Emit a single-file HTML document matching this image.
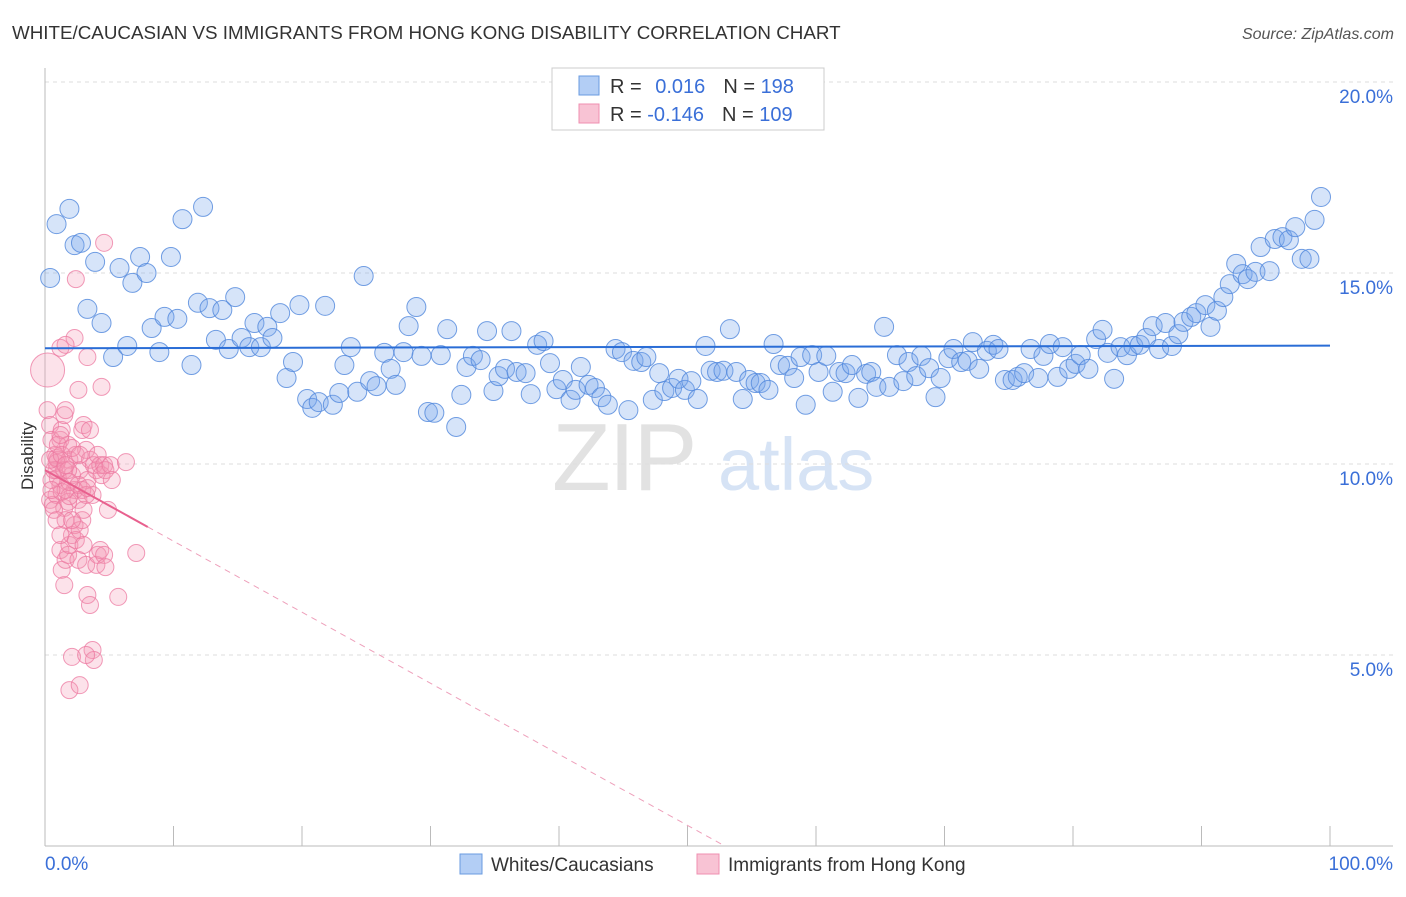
<!DOCTYPE html>
<html><head><meta charset="utf-8"><style>
body{margin:0;background:#fff;font-family:"Liberation Sans",sans-serif;}
svg text{font-family:"Liberation Sans",sans-serif;}
</style></head><body>
<svg id="chart" width="1406" height="892" xmlns="http://www.w3.org/2000/svg">
<text x="12" y="39" font-size="18.8" fill="#333">WHITE/CAUCASIAN VS IMMIGRANTS FROM HONG KONG DISABILITY CORRELATION CHART</text>
<text x="1394" y="39" font-size="16" fill="#555" font-style="italic" text-anchor="end">Source: ZipAtlas.com</text>
<g>
<text x="552" y="490" font-size="96" fill="#e2e2e2" font-family="Liberation Serif,serif" letter-spacing="-2">ZIP</text>
<text x="718" y="490" font-size="74" fill="#d6e3f5">atlas</text>
</g>
<g id="grid"></g>
<g id="axes"></g>
<g id="pinkPts"></g>
<g id="bluePts"></g>
<g id="trends"></g>
<text transform="translate(33,456) rotate(-90)" font-size="17" fill="#333" text-anchor="middle">Disability</text>
<g>
<rect x="552" y="68" width="272" height="62" fill="#fff" stroke="#ccc"/>
<rect x="579" y="76" width="20" height="19" fill="#b3cef5" stroke="#6a9be0"/>
<rect x="579" y="104" width="20" height="19" fill="#f8c3d4" stroke="#ef8fb0"/>
<text x="610" y="93" font-size="20" fill="#333">R = <tspan fill="#3a6fd8" dx="8">0.016</tspan><tspan dx="18" fill="#333">N = </tspan><tspan fill="#3a6fd8">198</tspan></text>
<text x="610" y="121" font-size="20" fill="#333">R = <tspan fill="#3a6fd8">-0.146</tspan><tspan dx="18" fill="#333">N = </tspan><tspan fill="#3a6fd8">109</tspan></text>
</g>
<g>
<rect x="460" y="854" width="22" height="20" fill="#b3cef5" stroke="#6a9be0"/>
<text x="491" y="871" font-size="19" fill="#333">Whites/Caucasians</text>
<rect x="697" y="854" width="22" height="20" fill="#f8c3d4" stroke="#ef8fb0"/>
<text x="728" y="871" font-size="19" fill="#333">Immigrants from Hong Kong</text>
</g>
</svg>
<script>
const yTicks=[5,10,15,20];
const yTickLabels=["5.0%","10.0%","15.0%","20.0%"];
const xTicks=[0,10,20,30,40,50,60,70,80,90,100];
const blueX=[0.4,0.9,1.9,2.3,2.8,3.3,3.9,4.4,5.3,5.8,6.4,6.8,7.4,7.9,8.3,8.9,9.3,9.8,10.3,10.7,11.4,11.9,12.3,12.8,13.3,13.8,14.3,14.8,15.3,15.9,16.3,16.8,17.3,17.7,18.3,18.8,19.3,19.8,20.4,20.8,21.3,21.8,22.4,22.9,23.3,23.8,24.3,24.8,25.3,25.8,26.4,26.9,27.3,27.9,28.3,28.9,29.3,29.8,30.3,30.8,31.3,32.0,32.4,32.8,33.3,33.9,34.4,34.9,35.3,35.8,36.3,36.7,37.4,37.8,38.3,38.8,39.3,39.8,40.3,40.9,41.3,41.7,42.3,42.8,43.3,43.8,44.4,44.9,45.4,45.8,46.4,46.8,47.3,47.8,48.2,48.8,49.3,49.8,50.3,50.8,51.4,51.8,52.3,52.8,53.3,53.8,54.3,54.8,55.3,55.7,56.3,56.7,57.2,57.8,58.3,58.8,59.2,59.7,60.2,60.8,61.3,61.8,62.3,62.8,63.3,63.9,64.3,64.7,65.3,65.7,66.3,66.8,67.2,67.8,68.2,68.8,69.3,69.7,70.3,70.7,71.3,71.8,72.2,72.7,73.3,73.8,74.2,74.7,75.3,75.7,76.2,76.7,77.3,77.7,78.2,78.8,79.2,79.7,80.2,80.6,81.2,81.8,82.3,82.7,83.2,83.7,84.2,84.7,85.2,85.7,86.2,86.7,87.2,87.7,88.2,88.6,89.2,89.6,90.3,90.7,91.2,91.7,92.2,92.7,93.2,93.6,94.2,94.6,95.3,95.7,96.3,96.8,97.3,97.8,98.4,98.8,99.3];
const blueY=[14.87,16.28,16.68,15.73,15.79,14.06,15.29,13.69,12.80,15.13,13.09,14.74,15.42,15.00,13.56,12.93,13.85,15.42,13.80,16.41,12.59,14.22,16.73,14.08,13.25,14.03,13.01,14.37,13.30,13.06,13.69,13.06,13.59,13.30,13.95,12.25,12.67,14.16,11.70,11.47,11.62,14.14,11.55,11.86,12.59,13.06,11.89,14.92,12.17,12.04,12.91,12.49,12.07,12.93,13.61,14.11,12.83,11.36,11.34,12.85,13.53,10.97,11.81,12.54,12.83,12.72,13.48,11.91,12.30,12.49,13.48,12.41,12.38,11.83,13.12,13.22,12.64,11.96,12.20,11.68,11.94,12.54,12.07,11.99,11.75,11.55,13.01,12.93,11.41,12.70,12.67,12.80,11.68,12.38,11.91,11.99,12.23,11.94,12.17,11.70,13.09,12.44,12.41,12.44,13.53,12.41,11.70,12.20,12.12,12.12,11.94,13.14,12.59,12.57,12.25,12.80,11.55,12.85,12.41,12.83,11.89,12.41,12.38,12.59,11.73,12.36,12.41,12.02,13.59,12.02,12.85,12.17,12.67,12.30,12.83,12.51,11.75,12.25,12.77,13.01,12.67,12.70,13.19,12.49,12.96,13.12,13.01,12.20,12.20,12.28,12.38,13.01,12.25,12.83,13.14,12.28,13.06,12.49,12.62,12.85,12.49,13.27,13.51,12.91,12.23,13.06,12.85,13.09,13.12,13.30,13.61,13.01,13.69,13.09,13.40,13.72,13.85,13.95,14.16,13.59,14.01,14.37,14.71,15.24,14.97,14.84,15.03,15.68,15.05,15.89,15.94,15.86,16.20,15.37,15.37,16.39,16.99];
const pinkX=[0.2,0.2,0.4,0.5,0.8,0.9,1.2,0.4,0.6,0.9,1.0,1.2,1.3,1.5,1.6,1.8,1.9,2.1,2.3,2.4,2.6,2.7,2.9,3.0,3.2,3.3,3.5,3.7,3.8,4.0,4.1,4.3,4.4,4.6,4.7,4.9,5.1,5.2,6.3,1.2,1.3,1.5,1.6,1.8,1.9,2.1,2.3,2.4,2.6,2.7,2.9,3.0,3.2,3.3,3.5,3.7,3.8,4.0,4.1,4.3,4.6,4.7,5.7,7.1,2.1,1.9,2.7,3.2,2.3,3.3,4.4,2.4,4.6,1.2,2.6,1.6,0.9,1.0,1.3,1.5,1.6,1.8,1.9,0.5,0.7,0.9,1.0,1.2,1.5,1.6,1.8,1.9,2.1,2.6,2.9,3.0,3.2,3.3,3.5,0.4,0.5,0.7,0.9,1.2,1.3,1.6,2.1,2.7];
const pinkY=[12.46,11.41,11.02,10.63,10.24,9.84,9.45,9.06,8.93,9.19,10.11,10.63,10.89,11.28,11.41,10.50,10.11,9.71,9.32,10.24,9.06,9.84,10.89,11.02,10.37,9.58,10.11,9.19,9.97,9.84,10.24,9.97,9.71,9.97,9.84,8.80,9.97,9.58,10.05,7.75,7.23,6.83,7.49,7.62,7.88,8.14,8.40,8.01,7.49,8.27,8.53,7.88,7.36,6.57,6.31,5.13,4.87,7.36,7.62,7.75,7.62,7.30,6.52,7.67,4.95,4.08,4.21,5.00,13.30,12.80,12.02,14.84,15.79,13.04,11.94,13.12,10.03,9.63,9.27,8.85,8.53,9.01,9.16,9.58,9.84,10.16,10.50,10.76,9.84,9.32,9.84,9.53,8.53,9.45,9.32,8.80,9.19,9.37,10.89,10.11,9.32,8.80,8.53,8.14,10.24,9.97,10.42,10.24];
const blueTrend=[13.03,13.10];
const pinkTrendIntercept=9.84, pinkTrendSlope=-0.186, pinkSolidEnd=8;

const X=v=>45+v*12.85, Y=v=>846-v*38.2;
const NS="http://www.w3.org/2000/svg";
function mk(tag,parent,attrs){const e=document.createElementNS(NS,tag);for(const k in attrs)e.setAttribute(k,attrs[k]);document.getElementById(parent).appendChild(e);return e;}
yTicks.forEach((t,i)=>{
  const l=mk('line','grid',{x1:45,x2:1393,y1:Y(t),y2:Y(t),stroke:'#ddd','stroke-dasharray':'4,4'});
  
  
  const tx=mk('text','grid',{x:1393,y:Y(t)+21,'font-size':19,fill:'#3a6fd8','text-anchor':'end'});
  tx.textContent=yTickLabels[i];
  
  
});
const ax=mk('line','axes',{x1:45,x2:1393,y1:846,y2:846,stroke:'#bbb'});


const ay=mk('line','axes',{x1:45,x2:45,y1:68,y2:846,stroke:'#bbb'});


xTicks.forEach(t=>{
  const l=mk('line','axes',{x1:X(t),x2:X(t),y1:826,y2:846,stroke:'#bbb'});
  
  
});
const xl0=mk('text','axes',{x:45,y:870,'font-size':19,fill:'#3a6fd8'});xl0.textContent='0.0%';


const xl1=mk('text','axes',{x:1393,y:870,'font-size':19,fill:'#3a6fd8','text-anchor':'end'});xl1.textContent='100.0%';


pinkX.forEach((v,i)=>{
  const c=mk('circle','pinkPts',{cx:X(v),cy:Y(pinkY[i]),r:i==0?17:8.5,fill:'rgba(244,150,180,0.28)',stroke:'rgba(236,120,160,0.75)','stroke-width':1});
  
  
});
blueX.forEach((v,i)=>{
  const c=mk('circle','bluePts',{cx:X(v),cy:Y(blueY[i]),r:9.5,fill:'rgba(120,165,235,0.3)',stroke:'rgba(80,135,220,0.8)','stroke-width':1});
  
  
});
const bt=mk('line','trends',{x1:X(0),x2:X(100),y1:Y(blueTrend[0]),y2:Y(blueTrend[1]),stroke:'#2a6dd6','stroke-width':2});


const pEnd=-pinkTrendIntercept/pinkTrendSlope;
const pt=mk('line','trends',{x1:X(0),x2:X(pinkSolidEnd),y1:Y(pinkTrendIntercept),y2:Y(pinkTrendIntercept+pinkTrendSlope*pinkSolidEnd),stroke:'#e8608e','stroke-width':2});


const pd=mk('line','trends',{x1:X(pinkSolidEnd),x2:X(pEnd),y1:Y(pinkTrendIntercept+pinkTrendSlope*pinkSolidEnd),y2:Y(0),stroke:'#eea0bb','stroke-width':1,'stroke-dasharray':'6,5'});


</script>
</body></html>
